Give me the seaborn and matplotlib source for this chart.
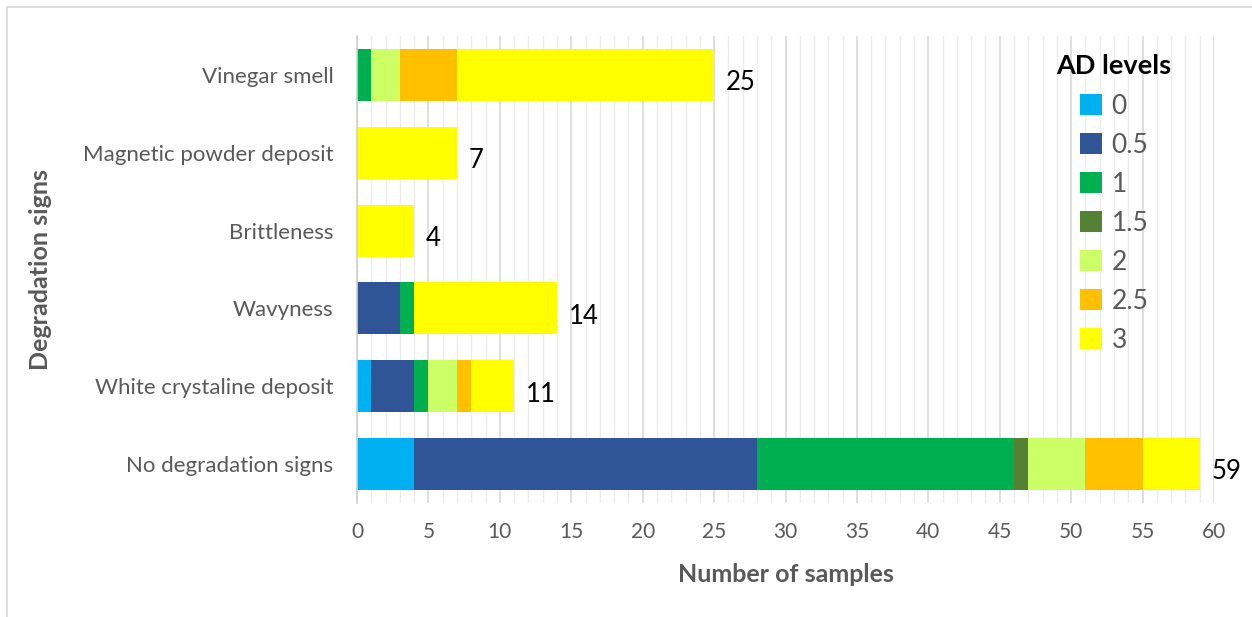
import matplotlib
matplotlib.use("Agg")
import matplotlib.pyplot as plt
import seaborn as sns
import numpy as np
import pandas as pd
from matplotlib.patches import Patch
from matplotlib.lines import Line2D

sns.set_theme(style="white")
plt.rcParams["font.family"] = ["Lato", "DejaVu Sans"]

# Degradation signs, top to bottom
signs = ["Vinegar smell", "Magnetic powder deposit", "Brittleness",
         "Wavyness", "White crystaline deposit", "No degradation signs"]

# Sample counts per AD level for each sign
levels = ["0", "0.5", "1", "1.5", "2", "2.5", "3"]
ad_0   = [0, 0, 0, 0, 1, 4]
ad_0_5 = [0, 0, 0, 3, 3, 24]
ad_1   = [1, 0, 0, 1, 1, 18]
ad_1_5 = [0, 0, 0, 0, 0, 1]
ad_2   = [2, 0, 0, 0, 2, 4]
ad_2_5 = [4, 0, 0, 0, 1, 4]
ad_3   = [18, 7, 4, 10, 3, 4]

colors = ["#00b0f0", "#2f5597", "#00b050", "#548235",
          "#ccff66", "#ffc000", "#ffff00"]

series = [ad_0, ad_0_5, ad_1, ad_1_5, ad_2, ad_2_5, ad_3]
counts = pd.DataFrame(np.array(series).T, index=signs, columns=levels)
cum = counts.cumsum(axis=1)
totals = counts.sum(axis=1)

W, H = 1252, 617
fig = plt.figure(figsize=(W / 100, H / 100), dpi=100)
ax = fig.add_axes([357 / W, 1 - 503 / H, (1214 - 357) / W, (503 - 36) / H])

# Stacked bars: draw cumulative totals from the outermost level inward
for lvl, col in reversed(list(zip(levels, colors))):
    df = pd.DataFrame({"sign": signs, "value": cum[lvl].values})
    sns.barplot(data=df, x="value", y="sign", order=signs, orient="h",
                color=col, saturation=1, width=0.67, ax=ax,
                edgecolor="none", linewidth=0)

# Total labels at the bar ends
for i, s in enumerate(signs):
    ax.text(totals[s] + 0.8, i + 0.1, f"{totals[s]:d}", va="center", ha="left",
            fontsize=18.5, color="black")

ax.set_xlim(0, 60)
ax.set_ylim(5.5, -0.5)
ax.set_xticks(np.arange(0, 61, 5))
ax.set_xticks(np.arange(0, 61, 1), minor=True)
ax.grid(axis="x", which="major", color="#d9d9d9", linewidth=1.2)
ax.grid(axis="x", which="minor", color="#ececec", linewidth=1.0)
ax.set_axisbelow(True)
for sp in ["top", "right", "bottom"]:
    ax.spines[sp].set_visible(False)
ax.spines["left"].set_color("#d0d0d0")
ax.spines["left"].set_linewidth(1.2)
ax.tick_params(axis="x", which="both", length=0, labelsize=15, colors="#595959", pad=14)
ax.tick_params(axis="y", length=0, labelsize=16, colors="#595959", pad=17)

ax.set_xlabel("Number of samples", fontsize=18, fontweight="bold", color="#595959", labelpad=15)
ax.set_ylabel("Degradation signs", fontsize=18, fontweight="bold", color="#595959", labelpad=22)

# Legend with its heading set apart, entries indented below it
fig.text(1056 / W, 1 - 66 / H, "AD levels", fontsize=19.5, fontweight="bold",
         color="black", ha="left", va="center")
handles = [Patch(facecolor=c, edgecolor="none") for c in colors]
leg = ax.legend(handles, levels, loc="upper left",
                bbox_to_anchor=(1056 / W, 1 - 70 / H), bbox_transform=fig.transFigure,
                frameon=False, fontsize=19,
                handlelength=0.85, handleheight=0.85, handletextpad=0.35,
                labelspacing=0.53, labelcolor="#595959")

# Outer frame edges
fig.add_artist(Line2D([7 / W, 7 / W], [0, 1 - 7 / H], transform=fig.transFigure,
                      color="#d9d9d9", linewidth=1.2))
fig.add_artist(Line2D([7 / W, 1], [1 - 7 / H, 1 - 7 / H], transform=fig.transFigure,
                      color="#d9d9d9", linewidth=1.2))

fig.savefig("out.png", dpi=100)
